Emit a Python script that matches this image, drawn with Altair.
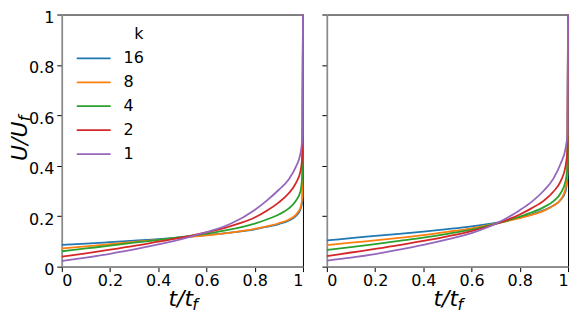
import altair as alt
import pandas as pd

# ---- data ----
t_vals = [0, 0.1, 0.2, 0.3, 0.4, 0.5, 0.6, 0.7, 0.8, 0.85, 0.9, 0.94, 0.97, 0.99, 0.998, 1.0]
k_labels = ["16", "8", "4", "2", "1"]
colors = ["#1f77b4", "#ff7f0e", "#2ca02c", "#d62728", "#9467bd"]

left_k16 = [0.086, 0.091, 0.097, 0.103, 0.109, 0.117, 0.125, 0.135, 0.148, 0.158, 0.169, 0.182, 0.200, 0.228, 0.265, 1.0]
left_k8 = [0.072, 0.080, 0.089, 0.098, 0.106, 0.115, 0.124, 0.135, 0.150, 0.160, 0.172, 0.186, 0.205, 0.235, 0.280, 1.0]
left_k4 = [0.061, 0.072, 0.083, 0.095, 0.106, 0.118, 0.131, 0.148, 0.171, 0.187, 0.207, 0.230, 0.260, 0.300, 0.380, 1.0]
left_k2 = [0.040, 0.053, 0.067, 0.082, 0.099, 0.116, 0.136, 0.161, 0.195, 0.222, 0.255, 0.290, 0.330, 0.380, 0.450, 1.0]
left_k1 = [0.022, 0.036, 0.051, 0.068, 0.088, 0.110, 0.137, 0.170, 0.225, 0.262, 0.305, 0.345, 0.395, 0.450, 0.520, 1.0]

right_k16 = [0.104, 0.113, 0.122, 0.130, 0.139, 0.149, 0.160, 0.174, 0.194, 0.207, 0.224, 0.242, 0.265, 0.300, 0.360, 1.0]
right_k8 = [0.085, 0.095, 0.104, 0.114, 0.125, 0.138, 0.152, 0.171, 0.192, 0.205, 0.222, 0.242, 0.267, 0.310, 0.380, 1.0]
right_k4 = [0.066, 0.077, 0.089, 0.102, 0.115, 0.130, 0.147, 0.170, 0.198, 0.215, 0.236, 0.260, 0.292, 0.340, 0.410, 1.0]
right_k2 = [0.042, 0.056, 0.070, 0.085, 0.102, 0.120, 0.141, 0.169, 0.207, 0.232, 0.262, 0.298, 0.340, 0.400, 0.470, 1.0]
right_k1 = [0.024, 0.036, 0.050, 0.067, 0.086, 0.108, 0.133, 0.170, 0.224, 0.258, 0.302, 0.350, 0.410, 0.470, 0.530, 1.0]

x_ticks = [0, 0.2, 0.4, 0.6, 0.8, 1]
y_ticks = [0, 0.2, 0.4, 0.6, 0.8, 1]


def build(series):
    rows = []
    for k, vals in zip(k_labels, series):
        for tt, u in zip(t_vals, vals):
            rows.append({"k": k, "t": tt, "u": u})
    return pd.DataFrame(rows)


left_df = build([left_k16, left_k8, left_k4, left_k2, left_k1])
right_df = build([right_k16, right_k8, right_k4, right_k2, right_k1])

W, H = 242, 253
FONT = "DejaVu Sans"


def panel(df, first):
    legend = None
    if first:
        legend = alt.Legend(
            title="k\u00a0", orient="none", legendX=23, legendY=12,
            symbolType="M-2.125,0L2.125,0", symbolSize=256, symbolStrokeWidth=1.8,
            labelFontSize=16, titleFontSize=16, titleFontWeight="normal",
            titleAnchor="end", titlePadding=7, rowPadding=7, labelOffset=21,
            padding=0, labelFont=FONT, titleFont=FONT, labelColor="black",
            titleColor="black",
        )
    lines = alt.Chart(df).mark_line(strokeWidth=1.8, interpolate="monotone").encode(
        x=alt.X("t:Q", scale=alt.Scale(domain=[0, 1], nice=False, zero=False),
                axis=alt.Axis(values=x_ticks, format="~g", title=None, labelPadding=1)),
        y=alt.Y("u:Q", scale=alt.Scale(domain=[0, 1], nice=False),
                axis=alt.Axis(values=y_ticks, format="~g", title=None, labels=first,
                              labelOffset=3, labelPadding=3)),
        color=alt.Color("k:N", scale=alt.Scale(domain=k_labels, range=colors),
                        legend=legend, sort=k_labels),
    )
    one = pd.DataFrame({"a": [0]})
    xt = alt.Chart(one).mark_text(text="t/t", fontSize=22, fontStyle="italic", font=FONT,
                                  align="left", baseline="alphabetic").encode(
        x=alt.value(107), y=alt.value(H + 40))
    xf = alt.Chart(one).mark_text(text="f", fontSize=16, fontStyle="italic", font=FONT,
                                  align="left", baseline="alphabetic").encode(
        x=alt.value(131), y=alt.value(H + 44))
    layers = [lines, xt, xf]
    if first:
        yt = alt.Chart(one).mark_text(text="U/U", fontSize=22, fontStyle="italic", font=FONT,
                                      align="left", baseline="alphabetic", angle=270).encode(
            x=alt.value(-35), y=alt.value(147))
        yf = alt.Chart(one).mark_text(text="f", fontSize=16, fontStyle="italic", font=FONT,
                                      align="left", baseline="alphabetic", angle=270).encode(
            x=alt.value(-32), y=alt.value(107))
        layers += [yt, yf]
    return alt.layer(*layers).properties(width=W, height=H)


chart = alt.hconcat(panel(left_df, True), panel(right_df, False), spacing=24, bounds="flush")
chart = chart.resolve_scale(color="independent").properties(
    padding={"left": 0, "top": 0, "right": 0, "bottom": 0}
).configure_view(stroke="black", strokeWidth=1).configure_axis(
    labelFont=FONT, labelFontSize=16, labelColor="black", tickColor="black",
    tickSize=5, tickWidth=1, domainColor="#8c8c8c", domainWidth=1.6,
    grid=False,
)

chart.save("out.html", embed_options={"renderer": "svg", "actions": False})
